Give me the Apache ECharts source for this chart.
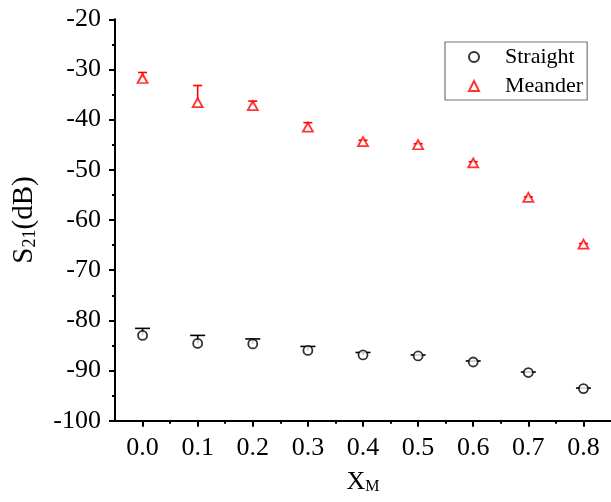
<!DOCTYPE html>
<html>
<head>
<meta charset="utf-8">
<script src="https://cdn.jsdelivr.net/npm/echarts@6/dist/echarts.min.js"></script>
<style>html,body{margin:0;padding:0;background:#fff}#c{width:611px;height:502px}</style>
</head>
<body>
<div id="c"></div>
<script>
// ---- data ----
var xValues = [0.0, 0.1, 0.2, 0.3, 0.4, 0.5, 0.6, 0.7, 0.8];
var straight = [-83.0, -84.6, -84.7, -86.0, -86.9, -87.1, -88.3, -90.4, -93.6];
var straightErrUp = [1.4, 1.6, 1.0, 0.8, 0.5, 0.2, 0.2, 0.1, 0.1];
var meander = [-31.8, -36.6, -37.2, -41.5, -44.4, -45.0, -48.6, -55.5, -64.8];
var meanderErrUp = [1.2, 3.4, 0.9, 0.9, 0.3, 0.2, 0.2, 0.1, 0.1];
var xTickLabels = [0.0, 0.1, 0.2, 0.3, 0.4, 0.5, 0.6, 0.7, 0.8];
var xMinorTicks = [0.05, 0.15, 0.25, 0.35, 0.45, 0.55, 0.65, 0.75];

var FONT = "'Liberation Serif', 'Times New Roman', serif";

function pts(ys) { return xValues.map(function (x, i) { return [x, ys[i]]; }); }
function errData(ys, ups) { return xValues.map(function (x, i) { return [x, ys[i], ys[i] + ups[i]]; }); }

function errRender(capHalf, color) {
  return function (params, api) {
    var p0 = api.coord([api.value(0), api.value(1)]);
    var p1 = api.coord([api.value(0), api.value(2)]);
    var st = { stroke: color, lineWidth: 1.6 };
    return {
      type: 'group',
      children: [
        { type: 'line', shape: { x1: p0[0], y1: p0[1], x2: p1[0], y2: p1[1] }, style: st },
        { type: 'line', shape: { x1: p1[0] - capHalf, y1: p1[1], x2: p1[0] + capHalf, y2: p1[1] }, style: st }
      ]
    };
  };
}

var chart = echarts.init(document.getElementById('c'), null, { renderer: 'canvas' });
chart.setOption({
  animation: false,
  backgroundColor: '#fff',
  textStyle: { fontFamily: FONT },
  grid: { left: 115, right: 0, top: 19.3, bottom: 81.3, containLabel: false },
  legend: {
    left: 445, top: 42,
    orient: 'vertical',
    data: ['Straight', 'Meander'],
    itemWidth: 10, itemHeight: 10, itemGap: 7,
    padding: [4, 4, 3, 23],
    borderColor: '#777', borderWidth: 1.2,
    formatter: function (n) { return '{t|' + n + '}'; },
    textStyle: {
      fontFamily: FONT, fontSize: 22, color: '#000',
      rich: { t: { fontFamily: FONT, fontSize: 22, lineHeight: 22, color: '#000', padding: [0, 0, 0, 21] } }
    }
  },
  xAxis: [{
    type: 'value', min: -0.05, max: 0.85,
    name: '{a|X}{b|M}', nameLocation: 'middle', nameGap: 40,
    nameTextStyle: {
      rich: {
        a: { fontFamily: FONT, fontSize: 26, color: '#000', lineHeight: 34, verticalAlign: 'bottom' },
        b: { fontFamily: FONT, fontSize: 16, color: '#000', lineHeight: 16, verticalAlign: 'bottom' }
      }
    },
    axisLine: { show: true, onZero: false, lineStyle: { color: '#000', width: 2 } },
    axisTick: { show: true, inside: false, length: 6, lineStyle: { color: '#000', width: 2 }, customValues: xTickLabels },
    axisLabel: {
      customValues: xTickLabels, margin: 14,
      fontFamily: FONT, fontSize: 26, color: '#000',
      formatter: function (v) { return v.toFixed(1); }
    },
    splitLine: { show: false }
  }, {
    type: 'value', min: -0.05, max: 0.85, position: 'bottom',
    axisLine: { show: false },
    axisTick: { show: true, length: 3, lineStyle: { color: '#000', width: 2 }, customValues: xMinorTicks },
    axisLabel: { show: false },
    splitLine: { show: false }
  }],
  yAxis: {
    type: 'value', min: -100, max: -20, interval: 10,
    name: '{a|S}{b|21}{a|(dB)}', nameLocation: 'middle', nameGap: 76,
    nameTextStyle: {
      rich: {
        a: { fontFamily: FONT, fontSize: 29, color: '#000', lineHeight: 38, verticalAlign: 'bottom' },
        b: { fontFamily: FONT, fontSize: 18, color: '#000', lineHeight: 18, verticalAlign: 'bottom' }
      }
    },
    axisLine: { show: true, onZero: false, lineStyle: { color: '#000', width: 2 } },
    axisTick: { show: true, inside: false, length: 6, lineStyle: { color: '#000', width: 2 } },
    minorTick: { show: true, splitNumber: 2, length: 3, lineStyle: { color: '#000', width: 2 } },
    axisLabel: { margin: 14, fontFamily: FONT, fontSize: 26, color: '#000' },
    splitLine: { show: false },
    minorSplitLine: { show: false }
  },
  series: [
    {
      name: 'StraightErr', type: 'custom', renderItem: errRender(7.5, '#000'),
      data: errData(straight, straightErrUp), encode: { x: 0, y: [1, 2] }, z: 2, silent: true
    },
    {
      name: 'MeanderErr', type: 'custom', renderItem: errRender(4.5, '#ff0000'),
      data: errData(meander, meanderErrUp), encode: { x: 0, y: [1, 2] }, z: 2, silent: true
    },
    {
      name: 'Straight', type: 'scatter', data: pts(straight),
      symbol: 'circle', symbolSize: 9,
      itemStyle: { color: '#fff', borderColor: '#000', borderWidth: 1.8 }, z: 3
    },
    {
      name: 'Meander', type: 'scatter', data: pts(meander),
      symbol: 'triangle', symbolSize: [10, 9],
      itemStyle: { color: '#fff', borderColor: '#ff0000', borderWidth: 1.8 }, z: 3
    }
  ]
});
</script>
</body>
</html>
